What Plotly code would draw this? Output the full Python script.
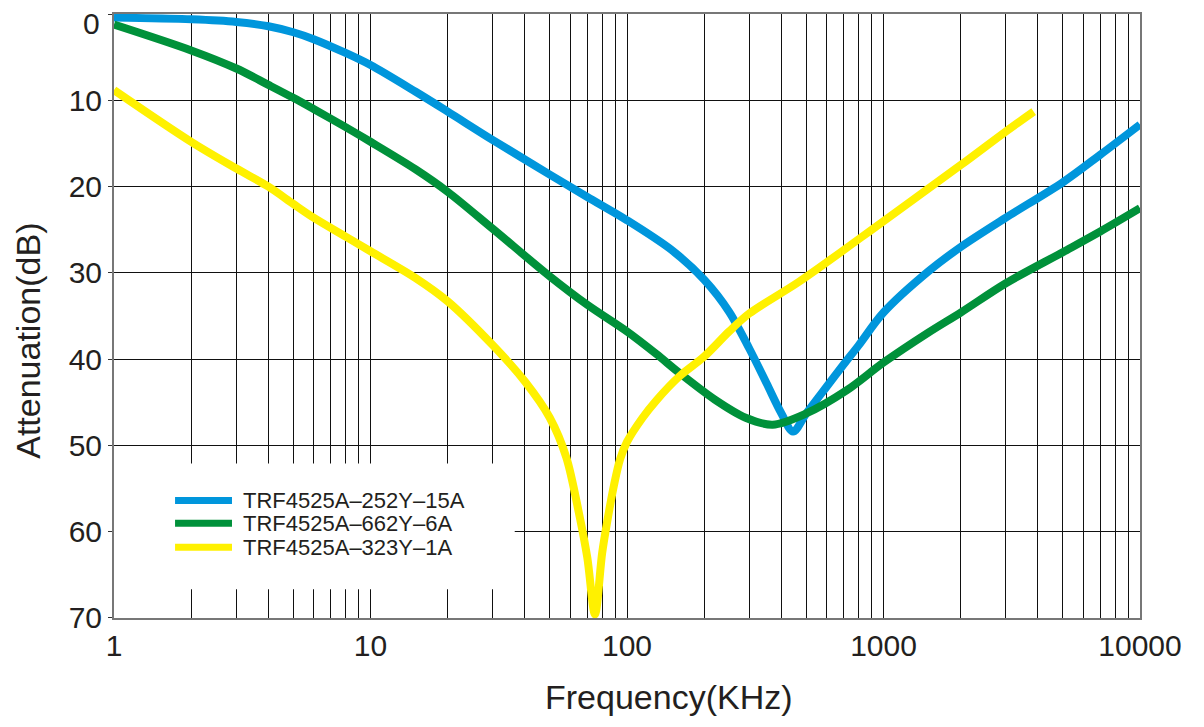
import plotly.graph_objects as go

# ---- data ----
blue_name = "TRF4525A-252Y-15A"
blue_f = [1, 2, 3, 4, 5, 6, 8, 10, 15, 20, 30, 50, 70, 100, 150, 200, 250, 300, 350, 400, 444, 500, 600, 700, 800, 1000, 1500, 2000, 3000, 5000, 7000, 10000]
blue_db = [0.4, 0.6, 0.9, 1.4, 2.1, 2.9, 4.5, 5.9, 9.0, 11.3, 14.6, 18.6, 21.2, 23.9, 27.4, 30.8, 34.5, 38.8, 42.8, 46.3, 48.4, 46.3, 43.2, 40.6, 38.4, 34.6, 29.8, 27.0, 23.6, 19.5, 16.3, 12.8]

green_name = "TRF4525A-662Y-6A"
green_f = [1, 2, 3, 4, 5, 6, 8, 10, 15, 20, 30, 50, 70, 100, 130, 160, 220, 290, 370, 500, 720, 1000, 1500, 2000, 3000, 5000, 7000, 10000]
green_db = [1.2, 4.2, 6.3, 8.2, 9.7, 11.0, 13.1, 14.8, 18.0, 20.6, 24.9, 30.4, 33.7, 36.8, 39.4, 41.6, 44.7, 46.8, 47.6, 46.3, 43.6, 40.4, 36.9, 34.6, 31.2, 27.6, 25.2, 22.5]

yellow_name = "TRF4525A-323Y-1A"
yellow_f = [1, 2, 3, 4, 5, 6, 8, 10, 15, 20, 30, 40, 50, 58, 65, 70, 75, 80, 84, 89, 94, 100, 115, 130, 160, 200, 250, 300, 470, 1000, 2000, 3000, 3850]
yellow_db = [8.8, 14.8, 17.9, 20.0, 22.0, 23.6, 25.8, 27.5, 30.6, 33.3, 38.4, 42.6, 46.8, 51.4, 57.9, 63.0, 69.6, 62.5, 58.6, 54.6, 51.6, 49.6, 46.8, 44.8, 42.0, 39.7, 36.8, 34.7, 31.0, 24.0, 17.5, 13.6, 11.3]

x_major = [1, 10, 100, 1000, 10000]
y_ticks = [0, 10, 20, 30, 40, 50, 60, 70]

# grid positions at every 1..9 of each decade, labels only at decades
x_grid = [m * 10 ** d for d in range(4) for m in range(1, 10)] + [10000]
x_text = [str(v) if v in x_major else "" for v in x_grid]
y_text = ["" if v == 0 else str(v) for v in y_ticks]

FONT = "Liberation Sans, Arial, sans-serif"
TXT = "#231f20"

series = [
    (blue_name, blue_f, blue_db, "#0096dc"),
    (green_name, green_f, green_db, "#00913a"),
    (yellow_name, yellow_f, yellow_db, "#fff100"),
]

fig = go.Figure()
for name, f, db, col in series:
    fig.add_trace(go.Scatter(
        x=f, y=db, name=name, mode="lines",
        line=dict(color=col, width=8, shape="spline", smoothing=0.9),
    ))

# white legend panel covering the grid
fig.add_shape(type="rect", xref="x", yref="y", x0=1, x1=36.5, y0=52.1, y1=66.7,
              fillcolor="white", line=dict(width=0), layer="between")

# legend entries (drawn as swatch + text)
row_y = [0.1947, 0.1568, 0.1172]
annotations = []
for (name, f, db, col), ry in zip(series, row_y):
    fig.add_shape(type="line", xref="paper", yref="paper", x0=0.0595, x1=0.115,
                  y0=ry, y1=ry, line=dict(color=col, width=7), layer="above")
    annotations.append(dict(text=name.replace("-", "\u2013"), xref="paper", yref="paper",
                            x=0.1238, y=ry, xanchor="left", yanchor="middle",
                            showarrow=False, font=dict(size=22, color=TXT, family=FONT)))

# axis titles and top tick label
annotations += [
    dict(text="Frequency(KHz)", xref="paper", yref="paper", x=0.541, y=-0.130,
         xanchor="center", yanchor="middle", showarrow=False, font=dict(size=34, color=TXT)),
    dict(text="Attenuation(dB)", xref="paper", yref="paper", x=-0.0838, y=0.459,
         xanchor="center", yanchor="middle", textangle=-90, showarrow=False,
         font=dict(size=34, color=TXT)),
    dict(text=str(y_ticks[0]), xref="paper", yref="paper", x=0, y=0.9835, xshift=-12,
         xanchor="right", yanchor="middle", showarrow=False, font=dict(size=30, color=TXT)),
]

fig.update_layout(
    width=1204, height=727,
    margin=dict(l=114, r=64, t=12, b=109),
    paper_bgcolor="white", plot_bgcolor="white",
    font=dict(family=FONT, color=TXT),
    showlegend=False,
    annotations=annotations,
    xaxis=dict(
        type="log", range=[0, 4],
        tickmode="array", tickvals=x_grid, ticktext=x_text,
        showgrid=True, gridcolor="#111111", gridwidth=1,
        showline=True, linecolor="#777777", linewidth=2, mirror=True,
        ticks="", tickfont=dict(size=30), zeroline=False,
    ),
    yaxis=dict(
        range=[70.02, -0.02], tickmode="array", tickvals=y_ticks, ticktext=y_text,
        showgrid=True, gridcolor="#111111", gridwidth=1,
        showline=True, linecolor="#777777", linewidth=2, mirror=True,
        ticks="outside", ticklen=4, tickcolor="#333333",
        tickfont=dict(size=30), zeroline=False,
    ),
)

fig.write_html("out.html", config={"displayModeBar": False},
               post_script="document.body.style.margin='0px';")
